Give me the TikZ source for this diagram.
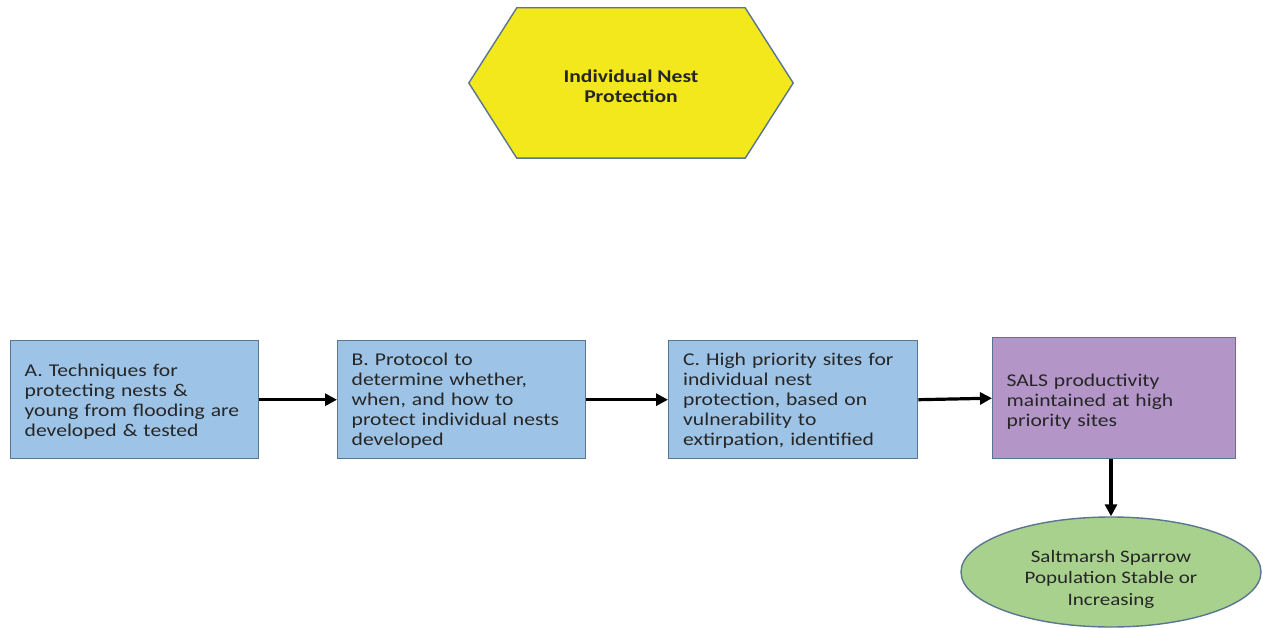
\documentclass[tikz,border=0pt]{standalone}
\usepackage{fontspec}
\setmainfont{Carlito}[FakeStretch=1.2]
\usetikzlibrary{arrows.meta,shapes.geometric}
\definecolor{boxblue}{HTML}{9DC3E6}
\definecolor{boxpurple}{HTML}{B395C8}
\definecolor{hexyellow}{HTML}{F2E81C}
\definecolor{ellgreen}{HTML}{A9D18E}
\definecolor{edgeblue}{HTML}{5A7590}
\definecolor{txt}{HTML}{262626}
\tikzset{
  stepbox/.style={draw=edgeblue, line width=1.4pt, fill=boxblue, anchor=north west,
    minimum height=118pt, text width=#1, inner xsep=14pt, align=left,
    font=\fontsize{18}{20}\selectfont, text=txt},
  conn/.style={line width=3.2pt, -{Triangle[length=12pt,width=12pt]}},
}
\begin{document}
\begin{tikzpicture}[x=1pt,y=-1pt]
\useasboundingbox (0,0) rectangle (1263,628);
% hexagon
\node[minimum width=228pt, minimum height=150pt, inner sep=0pt] (hex) at (631,83) {};
\draw[draw=edgeblue, line width=1.4pt, fill=hexyellow]
  (hex.north west) -- (hex.north east) -- ([xshift=48pt]hex.east) -- (hex.south east)
  -- (hex.south west) -- ([xshift=-48pt]hex.west) -- cycle;
\node[font=\bfseries\fontsize{18}{20}\selectfont, align=center, text=txt] (hext) at (631,86)
  {Individual Nest\\Protection};
% boxes
\node[stepbox=220pt, minimum width=248pt, text depth=58.5pt] (a) at (10,340)
  {A. Techniques for\\protecting nests \&\\young from flooding are\\developed \& tested};
\node[stepbox=220pt, minimum width=248pt, text depth=80.5pt] (b) at (337,340)
  {B. Protocol to\\determine whether,\\when, and how to\\protect individual nests\\developed};
\node[stepbox=220pt, minimum width=249pt, text depth=80.5pt] (c) at (668,340)
  {C. High priority sites for\\individual nest\\protection, based on\\vulnerability to\\extirpation, identified};
\node[stepbox=215pt, minimum width=243pt, minimum height=121pt, fill=boxpurple,
  text depth=36.5pt] (d) at (992,337)
  {SALS productivity\\maintained at high\\priority sites};
% ellipse
\node[ellipse, draw=edgeblue, line width=1.4pt, fill=ellgreen, minimum width=300pt,
  minimum height=110pt, inner sep=0pt] (e) at (1111,572) {};
\node[align=center, text=txt, font=\fontsize{17.5}{21.5}\selectfont] (et) at (1111,579)
  {Saltmarsh Sparrow\\Population Stable or\\Increasing};
% connectors
\draw[conn] (a.east) -- (b.west);
\draw[conn] (b.east) -- (c.west);
\draw[conn] (c.east) -- (d.west);
\draw[conn] (d.south -| e.north) -- (e.north);
\end{tikzpicture}
\end{document}
